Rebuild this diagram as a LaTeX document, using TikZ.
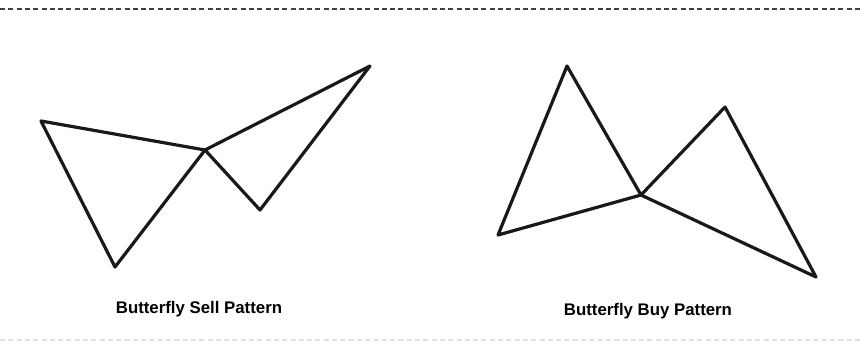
\documentclass[tikz,border=0pt]{standalone}
\usepackage{fontspec}
\setmainfont{Liberation Sans}
\tikzset{
	leg/.style={line width=3.2pt, line join=round, line cap=round, black!90},
	caption/.style={font=\bfseries\fontsize{16.8}{20}\selectfont, anchor=center},
	rule/.style={line width=1.8pt, dash pattern=on 5pt off 3.3pt}
}
\begin{document}
\begin{tikzpicture}[x=1pt, y=-1pt]
			\useasboundingbox (0,0) rectangle (860,346);
			\draw[rule, black!75] (0,9) -- (860,9);
			\draw[rule, black!12] (0,340) -- (860,340);
			
			\coordinate (sX) at (41,121);
			\coordinate (sA) at (115,267);
			\coordinate (sB) at (205,150);
			\coordinate (sC) at (260,210);
			\coordinate (sD) at (370,66);
			
			\coordinate (bX) at (498,235);
			\coordinate (bA) at (567,66);
			\coordinate (bB) at (641,195);
			\coordinate (bC) at (725,107);
			\coordinate (bD) at (816,277);
			
			\draw[leg] (sX) -- (sA) -- (sB) -- (sC) -- (sD) -- (sB) -- (sX);
			\draw[leg] (bX) -- (bA) -- (bB) -- (bC) -- (bD) -- (bB) -- (bX);
			
			\node[caption] (sell) at (199,309) {Butterfly Sell Pattern};
			\node[caption] (buy) at (648,311) {Butterfly Buy Pattern};
		\end{tikzpicture}
\end{document}
